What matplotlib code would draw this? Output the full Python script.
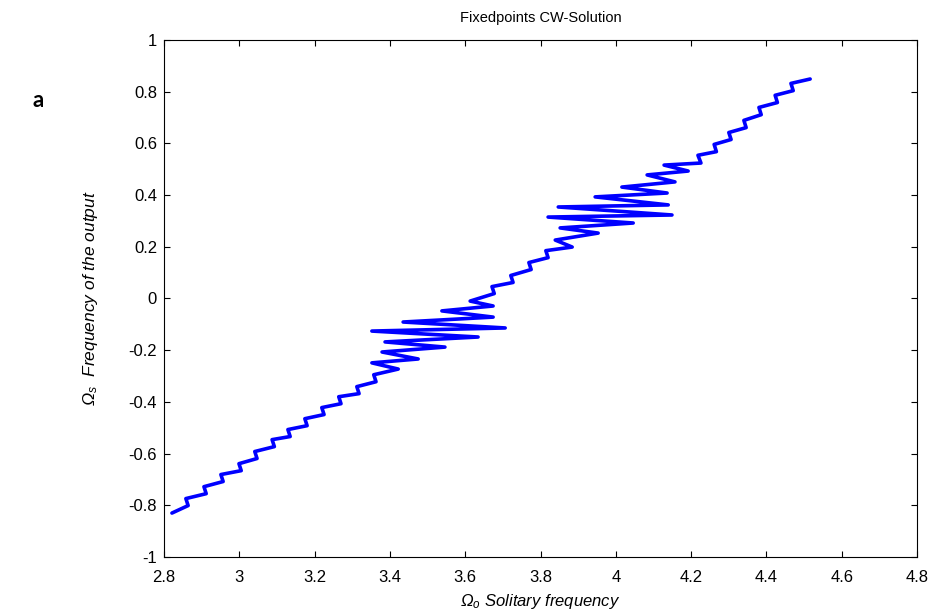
import numpy as np
import matplotlib
matplotlib.use('Agg')
import matplotlib.pyplot as plt

plt.rcParams['font.family'] = ['Liberation Sans', 'DejaVu Sans']
plt.rcParams['axes.unicode_minus'] = False
plt.rcParams['mathtext.fontset'] = 'custom'
plt.rcParams['mathtext.rm'] = 'Liberation Sans:italic'
plt.rcParams['mathtext.it'] = 'Liberation Sans:italic'

# turning points of the fixed point curve (Omega_0, Omega_s)
omega_0 = [2.821,
           2.864, 2.858, 2.912, 2.906, 2.957, 2.951, 3.005, 2.999,
           3.047, 3.041, 3.093, 3.087, 3.135, 3.129, 3.180, 3.174,
           3.225, 3.219, 3.270, 3.264, 3.318, 3.312, 3.363, 3.357,
           3.422, 3.352, 3.475, 3.379, 3.546, 3.387, 3.634, 3.352,
           3.706, 3.435, 3.674, 3.538, 3.674, 3.613,
           3.677, 3.671, 3.727, 3.721, 3.775, 3.769, 3.820, 3.814,
           3.884, 3.839, 3.953, 3.852, 4.046, 3.820, 4.149, 3.847,
           4.139, 3.945, 4.136, 4.016, 4.157, 4.083, 4.192, 4.128,
           4.226, 4.218, 4.267, 4.261, 4.306, 4.300, 4.346, 4.340,
           4.386, 4.380, 4.429, 4.423, 4.471, 4.465,
           4.516]
omega_s = [-0.830,
           -0.801, -0.774, -0.755, -0.728, -0.708, -0.681, -0.666, -0.639,
           -0.619, -0.592, -0.573, -0.546, -0.534, -0.507, -0.492, -0.465,
           -0.449, -0.422, -0.407, -0.380, -0.368, -0.341, -0.322, -0.295,
           -0.273, -0.249, -0.234, -0.207, -0.188, -0.168, -0.149, -0.126,
           -0.114, -0.091, -0.072, -0.048, -0.029, -0.010,
           0.019, 0.046, 0.062, 0.089, 0.112, 0.139, 0.158, 0.185,
           0.199, 0.226, 0.253, 0.273, 0.292, 0.315, 0.323, 0.354,
           0.362, 0.393, 0.408, 0.431, 0.451, 0.478, 0.493, 0.516,
           0.524, 0.554, 0.568, 0.596, 0.615, 0.642, 0.661, 0.689,
           0.711, 0.739, 0.758, 0.786, 0.804, 0.832,
           0.849]

xticks = [2.8, 3.0, 3.2, 3.4, 3.6, 3.8, 4.0, 4.2, 4.4, 4.6, 4.8]
yticks = [-1.0, -0.8, -0.6, -0.4, -0.2, 0.0, 0.2, 0.4, 0.6, 0.8, 1.0]

fig = plt.figure(figsize=(9.32, 6.15), dpi=100)
ax = fig.add_axes([0.176, 0.0943, 0.808, 0.8407])

ax.plot(omega_0, omega_s, color='#0000ff', lw=2.6,
        solid_joinstyle='round', solid_capstyle='round')

ax.set_xlim(2.8, 4.8)
ax.set_ylim(-1, 1)
ax.set_xticks(xticks)
ax.set_yticks(yticks)
ax.set_xticklabels(['%g' % v for v in xticks])
ax.set_yticklabels(['%g' % v for v in yticks])
ax.tick_params(direction='in', length=4, width=0.8, top=True, right=True,
               labelsize=12, colors='black')
ax.tick_params(axis='x', pad=9)
ax.tick_params(axis='y', pad=5)
for s in ax.spines.values():
    s.set_linewidth(0.8)

ax.set_title('Fixedpoints CW-Solution', fontsize=10.5, pad=13)
ax.set_xlabel(r'$\Omega_o$ Solitary frequency', fontsize=12, style='italic')
ax.set_ylabel(r'$\Omega_s$  Frequency of the output', fontsize=12.5, style='italic')
ax.xaxis.set_label_coords(0.5, -0.068)
ax.yaxis.set_label_coords(-0.085, 0.5)

fig.text(0.041, 0.837, 'a', fontsize=16, weight='bold', family='Lato',
         ha='center', va='center')

fig.savefig('out.png', dpi=100)
